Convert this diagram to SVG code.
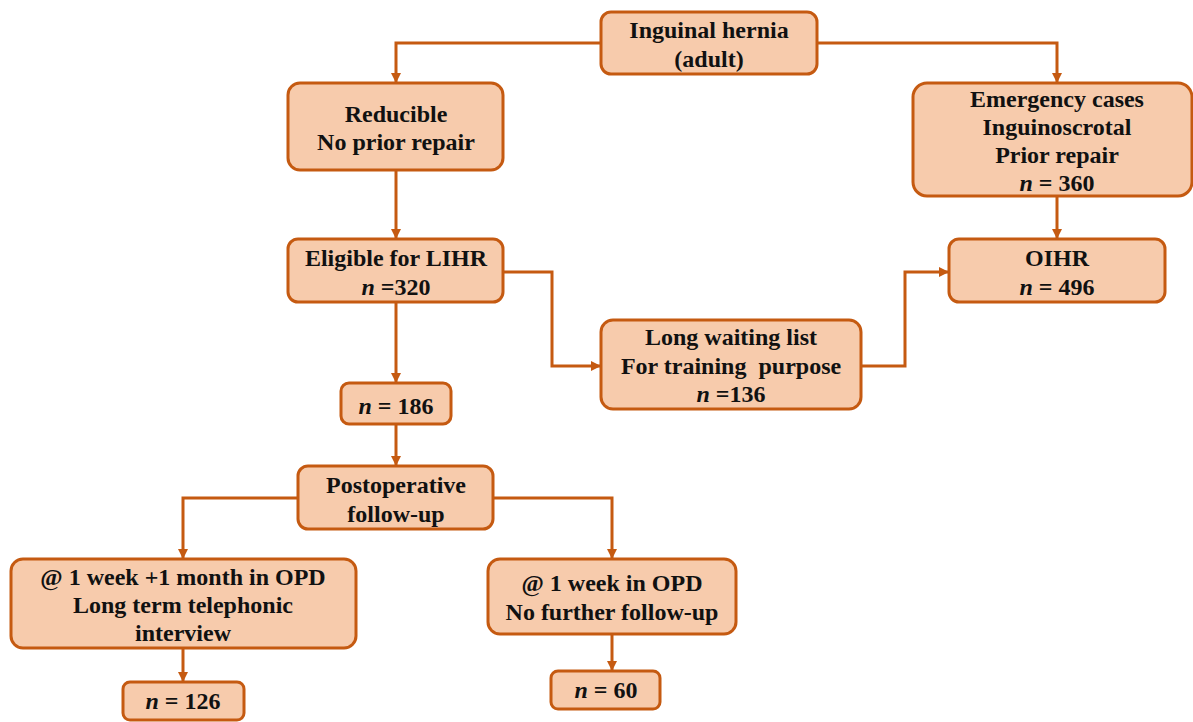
<svg xmlns="http://www.w3.org/2000/svg" width="1193" height="722" viewBox="0 0 1193 722">
<defs>
<style>
.box{fill:#F7CBAC;stroke:#C55A11;stroke-width:3}
.t{font-family:"Liberation Serif","Times New Roman",serif;font-weight:bold;font-size:24px;fill:#111;text-anchor:middle}
.i{font-style:italic}
.c{fill:none;stroke:#C55A11;stroke-width:3}
</style>
<marker id="ah" viewBox="0 0 10 10" refX="9" refY="5" markerWidth="10" markerHeight="10" markerUnits="userSpaceOnUse" orient="auto">
<path d="M0,0 L10,5 L0,10 Z" fill="#C55A11"/>
</marker>
</defs>
<rect width="1193" height="722" fill="#fff"/>
<g id="connectors">
<polyline class="c" points="601,43 396,43 396,82" marker-end="url(#ah)"/>
<polyline class="c" points="817,43 1057,43 1057,82" marker-end="url(#ah)"/>
<polyline class="c" points="396,170 396,238" marker-end="url(#ah)"/>
<polyline class="c" points="1057,196 1057,238" marker-end="url(#ah)"/>
<polyline class="c" points="503,272 552,272 552,366 600,366" marker-end="url(#ah)"/>
<polyline class="c" points="861,366 905,366 905,272 948,272" marker-end="url(#ah)"/>
<polyline class="c" points="396,302 396,382" marker-end="url(#ah)"/>
<polyline class="c" points="396,424 396,465" marker-end="url(#ah)"/>
<polyline class="c" points="298,498 183,498 183,558" marker-end="url(#ah)"/>
<polyline class="c" points="493,498 612,498 612,558" marker-end="url(#ah)"/>
<polyline class="c" points="183,648 183,681" marker-end="url(#ah)"/>
<polyline class="c" points="612,634 612,670" marker-end="url(#ah)"/>
</g>
<g id="n-inguinal">
<rect class="box" x="601" y="12" width="216" height="62" rx="10"/>
<text class="t" x="709" y="38">Inguinal hernia</text>
<text class="t" x="709" y="67">(adult)</text>
</g>
<g id="n-reducible">
<rect class="box" x="288" y="83" width="215" height="87" rx="12"/>
<text class="t" x="396" y="122">Reducible</text>
<text class="t" x="396" y="150">No prior repair</text>
</g>
<g id="n-emergency">
<rect class="box" x="913" y="83" width="279" height="113" rx="14"/>
<text class="t" x="1057" y="107">Emergency cases</text>
<text class="t" x="1057" y="135">Inguinoscrotal</text>
<text class="t" x="1057" y="163">Prior repair</text>
<text class="t" x="1057" y="191"><tspan class="i">n</tspan> = 360</text>
</g>
<g id="n-eligible">
<rect class="box" x="288" y="239" width="215" height="63" rx="10"/>
<text class="t" x="396" y="266">Eligible for LIHR</text>
<text class="t" x="396" y="295"><tspan class="i">n</tspan> =320</text>
</g>
<g id="n-oihr">
<rect class="box" x="949" y="239" width="216" height="63" rx="10"/>
<text class="t" x="1057" y="266">OIHR</text>
<text class="t" x="1057" y="295"><tspan class="i">n</tspan> = 496</text>
</g>
<g id="n-waiting">
<rect class="box" x="601" y="320" width="260" height="89" rx="12"/>
<text class="t" x="731" y="345">Long waiting list</text>
<text class="t" x="731" y="374" xml:space="preserve">For training  purpose</text>
<text class="t" x="731" y="402"><tspan class="i">n</tspan> =136</text>
</g>
<g id="n-186">
<rect class="box" x="341" y="383" width="110" height="41" rx="8"/>
<text class="t" x="396" y="414"><tspan class="i">n</tspan> = 186</text>
</g>
<g id="n-postop">
<rect class="box" x="298" y="466" width="195" height="63" rx="10"/>
<text class="t" x="396" y="493">Postoperative</text>
<text class="t" x="396" y="522">follow-up</text>
</g>
<g id="n-week-month">
<rect class="box" x="11" y="559" width="345" height="89" rx="12"/>
<text class="t" x="183" y="585">@ 1 week +1 month in OPD</text>
<text class="t" x="183" y="613">Long term telephonic</text>
<text class="t" x="183" y="641">interview</text>
</g>
<g id="n-week">
<rect class="box" x="488" y="559" width="248" height="75" rx="12"/>
<text class="t" x="612" y="591">@ 1 week in OPD</text>
<text class="t" x="612" y="620">No further follow-up</text>
</g>
<g id="n-126">
<rect class="box" x="123" y="682" width="121" height="38" rx="7"/>
<text class="t" x="183" y="709"><tspan class="i">n</tspan> = 126</text>
</g>
<g id="n-60">
<rect class="box" x="551" y="671" width="109" height="38" rx="7"/>
<text class="t" x="606" y="698"><tspan class="i">n</tspan> = 60</text>
</g>
</svg>
